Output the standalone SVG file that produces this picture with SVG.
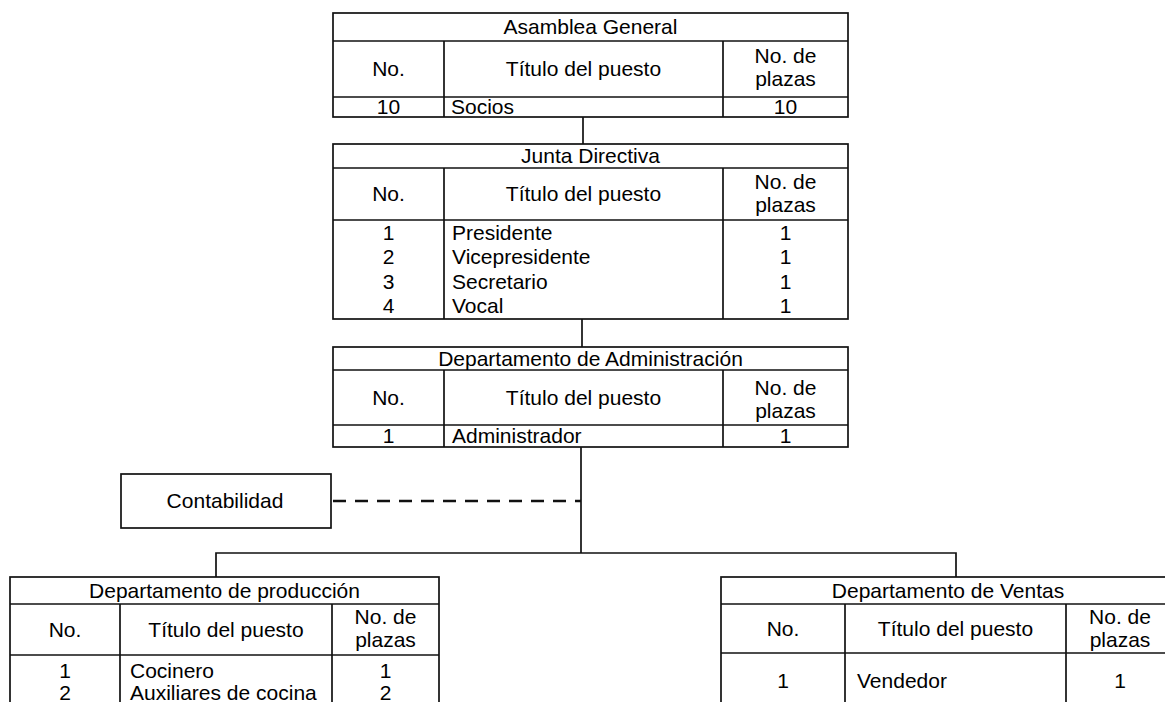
<svg xmlns="http://www.w3.org/2000/svg" width="1165" height="702" viewBox="0 0 1165 702">
<style>
  .box{fill:#fff;stroke:#111;stroke-width:1.7}
  .ln{stroke:#111;stroke-width:1.7;fill:none}
  .dash{stroke:#111;stroke-width:2.6;fill:none;stroke-dasharray:13 9}
  text{font-family:"Liberation Sans",Arial,sans-serif;font-size:21px;fill:#000}
  .c{text-anchor:middle}
</style>
<rect width="1165" height="702" fill="#fff"/>

<g id="connectors">
  <line class="ln" x1="583" y1="117" x2="583" y2="144"/>
  <line class="ln" x1="582" y1="319" x2="582" y2="347"/>
  <line class="ln" x1="581" y1="447" x2="581" y2="553"/>
  <polyline class="ln" points="216,577 216,553 956,553 956,577"/>
  <line class="dash" x1="333" y1="501" x2="581" y2="501"/>
</g>

<g id="asamblea">
  <rect class="box" x="333" y="13" width="515" height="104"/>
  <line class="ln" x1="333" y1="41" x2="848" y2="41"/>
  <line class="ln" x1="333" y1="97" x2="848" y2="97"/>
  <line class="ln" x1="444" y1="41" x2="444" y2="117"/>
  <line class="ln" x1="723" y1="41" x2="723" y2="117"/>
  <text class="c" x="590.5" y="34">Asamblea General</text>
  <text class="c" x="388.5" y="76">No.</text>
  <text class="c" x="583.5" y="76">Título del puesto</text>
  <text class="c" x="785.5" y="63">No. de</text>
  <text class="c" x="785.5" y="86">plazas</text>
  <text class="c" x="388.5" y="114">10</text>
  <text x="451" y="114">Socios</text>
  <text class="c" x="785.5" y="114">10</text>
</g>

<g id="junta">
  <rect class="box" x="333" y="144" width="515" height="175"/>
  <line class="ln" x1="333" y1="168" x2="848" y2="168"/>
  <line class="ln" x1="333" y1="220" x2="848" y2="220"/>
  <line class="ln" x1="444" y1="168" x2="444" y2="319"/>
  <line class="ln" x1="723" y1="168" x2="723" y2="319"/>
  <text class="c" x="590.5" y="163">Junta Directiva</text>
  <text class="c" x="388.5" y="201">No.</text>
  <text class="c" x="583.5" y="201">Título del puesto</text>
  <text class="c" x="785.5" y="189">No. de</text>
  <text class="c" x="785.5" y="212">plazas</text>
  <text class="c" x="388.5" y="240">1</text>
  <text x="452" y="240">Presidente</text>
  <text class="c" x="785.5" y="240">1</text>
  <text class="c" x="388.5" y="264">2</text>
  <text x="452" y="264">Vicepresidente</text>
  <text class="c" x="785.5" y="264">1</text>
  <text class="c" x="388.5" y="289">3</text>
  <text x="452" y="289">Secretario</text>
  <text class="c" x="785.5" y="289">1</text>
  <text class="c" x="388.5" y="313">4</text>
  <text x="452" y="313">Vocal</text>
  <text class="c" x="785.5" y="313">1</text>
</g>

<g id="administracion">
  <rect class="box" x="333" y="347" width="515" height="100"/>
  <line class="ln" x1="333" y1="370" x2="848" y2="370"/>
  <line class="ln" x1="333" y1="425" x2="848" y2="425"/>
  <line class="ln" x1="444" y1="370" x2="444" y2="447"/>
  <line class="ln" x1="723" y1="370" x2="723" y2="447"/>
  <text class="c" x="590.5" y="366">Departamento de Administración</text>
  <text class="c" x="388.5" y="405">No.</text>
  <text class="c" x="583.5" y="405">Título del puesto</text>
  <text class="c" x="785.5" y="395">No. de</text>
  <text class="c" x="785.5" y="418">plazas</text>
  <text class="c" x="388.5" y="443">1</text>
  <text x="452" y="443">Administrador</text>
  <text class="c" x="785.5" y="443">1</text>
</g>

<g id="contabilidad">
  <rect class="box" x="121" y="474" width="210" height="54"/>
  <text class="c" x="225" y="508">Contabilidad</text>
</g>

<g id="produccion">
  <rect class="box" x="10" y="577" width="429" height="140"/>
  <line class="ln" x1="10" y1="604" x2="439" y2="604"/>
  <line class="ln" x1="10" y1="655" x2="439" y2="655"/>
  <line class="ln" x1="120" y1="604" x2="120" y2="717"/>
  <line class="ln" x1="332" y1="604" x2="332" y2="717"/>
  <text class="c" x="224.5" y="598">Departamento de producción</text>
  <text class="c" x="65" y="637">No.</text>
  <text class="c" x="226" y="637">Título del puesto</text>
  <text class="c" x="385.5" y="624">No. de</text>
  <text class="c" x="385.5" y="647">plazas</text>
  <text class="c" x="65" y="678">1</text>
  <text x="130" y="678">Cocinero</text>
  <text class="c" x="385.5" y="678">1</text>
  <text class="c" x="65" y="700">2</text>
  <text x="130" y="700">Auxiliares de cocina</text>
  <text class="c" x="385.5" y="700">2</text>
</g>

<g id="ventas">
  <rect class="box" x="721" y="577" width="454" height="140"/>
  <line class="ln" x1="721" y1="604" x2="1175" y2="604"/>
  <line class="ln" x1="721" y1="653" x2="1175" y2="653"/>
  <line class="ln" x1="845" y1="604" x2="845" y2="717"/>
  <line class="ln" x1="1066" y1="604" x2="1066" y2="717"/>
  <text class="c" x="948" y="598">Departamento de Ventas</text>
  <text class="c" x="783" y="636">No.</text>
  <text class="c" x="955.5" y="636">Título del puesto</text>
  <text class="c" x="1120" y="624">No. de</text>
  <text class="c" x="1120" y="647">plazas</text>
  <text class="c" x="783" y="688">1</text>
  <text x="857" y="688">Vendedor</text>
  <text class="c" x="1120" y="688">1</text>
</g>
</svg>
